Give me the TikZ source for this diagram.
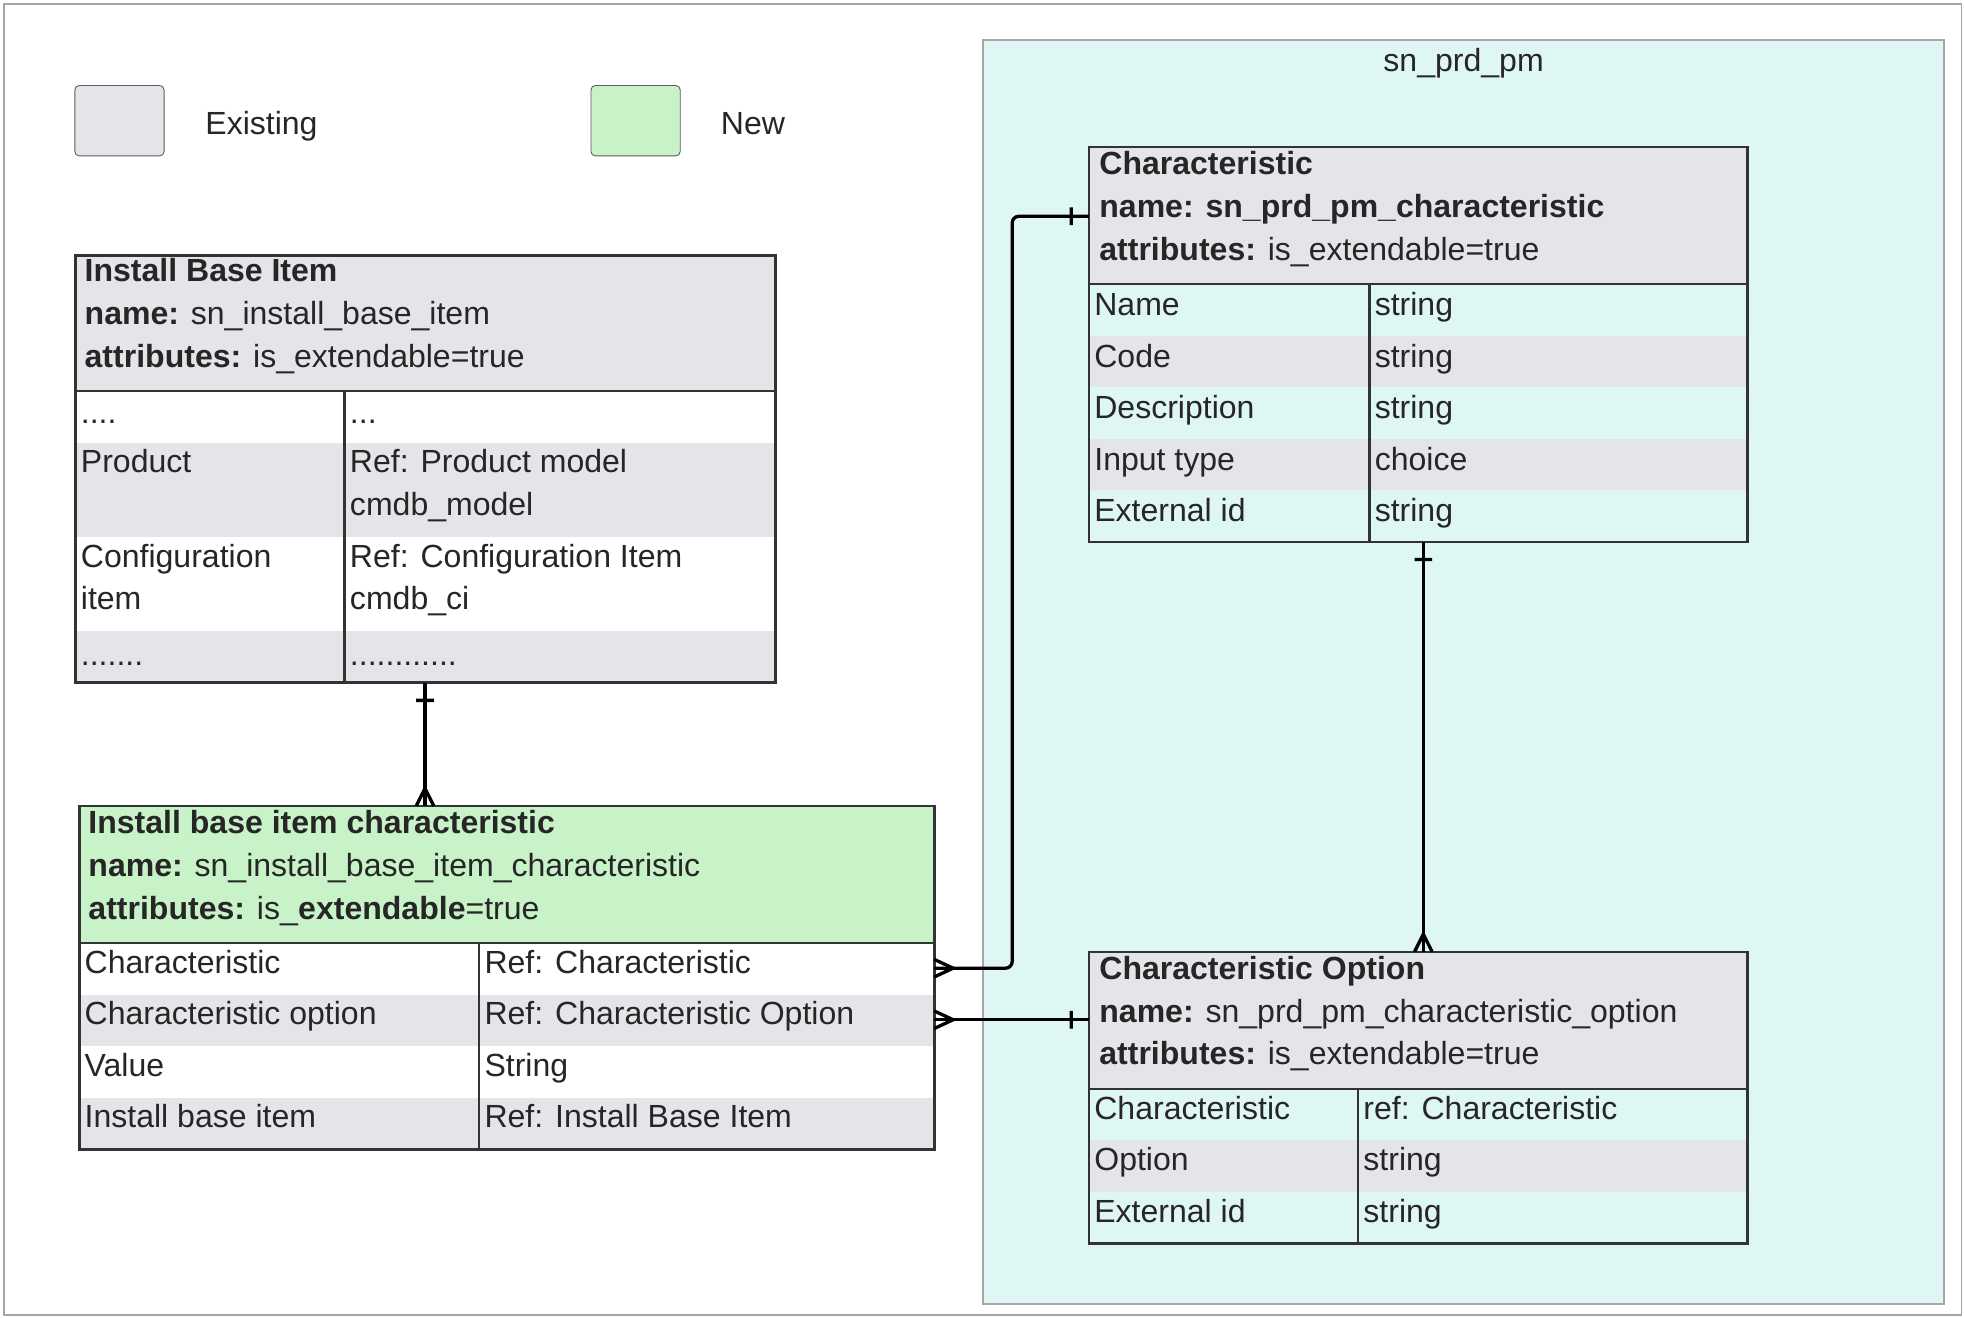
\documentclass[tikz,border=0pt]{standalone}
\usepackage{fontspec}
\setmainfont{Liberation Sans}
\usetikzlibrary{fit}
\definecolor{exg}{HTML}{E3E5E8}
\definecolor{newg}{HTML}{C8F2C8}
\definecolor{cy}{HTML}{DFF7F4}
\definecolor{bd}{HTML}{333333}
\begin{document}
\begin{tikzpicture}[x=0.02cm,y=-0.02cm,
  tx/.style={anchor=base west,inner sep=0,font=\fontsize{14.5}{17}\selectfont,text=black!85},
  hb/.style={tx,font=\fontsize{14.5}{17}\selectfont\bfseries},
  box/.style={draw=bd,line width=1.2pt,inner sep=0,fit=#1},
  con/.style={line width=1.5pt,black}]
\useasboundingbox (0,0) rectangle (1562,1048);
\draw[gray!70,line width=0.8pt] (3,3) rectangle (1560,1046);
% container
\fill[cy] (782,32) rectangle (1546,1037);
\coordinate (c1) at (782,32); \coordinate (c2) at (1546,1037);
\node[draw=gray!70,line width=0.8pt,inner sep=0,fit=(c1)(c2)] (cont) {};
\node[tx,anchor=base] (ctitle) at (1164,57) {sn\_prd\_pm};
% legend
\node[draw=bd!80,fill=exg,rounded corners=2pt,minimum width=1.42cm,minimum height=1.12cm] (lex) at (95,96) {};
\node[tx] (lext) at (163,107) {Existing};
\node[draw=bd!80,fill=newg,rounded corners=2pt,minimum width=1.42cm,minimum height=1.12cm] (lnw) at (505.5,96) {};
\node[tx] (lnwt) at (573,107) {New};
% ===== Table 1
\fill[exg] (60,203) rectangle (617,311);
\fill[white] (60,311) rectangle (617,543);
\fill[exg] (60,352) rectangle (617,427);
\fill[exg] (60,502) rectangle (617,543);
\draw[bd,line width=1.2pt] (60,311) -- (617,311) (274,311) -- (274,543);
\coordinate (a1) at (60,203); \coordinate (a2) at (617,543);
\node[box=(a1)(a2)] (t1) {};
\node[hb] (t1h1) at (67,224) {Install Base Item};
\node[tx] (t1h2) at (67,258) {\textbf{name:} sn\_install\_base\_item};
\node[tx] (t1h3) at (67,292) {\textbf{attributes:} is\_extendable=true};
\node[tx] (t1a) at (64,337) {....};
\node[tx] (t1b) at (278,337) {...};
\node[tx] (t1c) at (64,376) {Product};
\node[tx] (t1d) at (278,376) {Ref: Product model};
\node[tx] (t1e) at (278,410) {cmdb\_model};
\node[tx] (t1f) at (64,451) {Configuration};
\node[tx] (t1g) at (64,485) {item};
\node[tx] (t1h) at (278,451) {Ref: Configuration Item};
\node[tx] (t1i) at (278,485) {cmdb\_ci};
\node[tx] (t1j) at (64,529) {.......};
\node[tx] (t1k) at (278,529) {............};
% ===== Table 2
\fill[newg] (63,641) rectangle (743,750);
\fill[white] (63,750) rectangle (743,914);
\fill[exg] (63,791) rectangle (743,832);
\fill[exg] (63,873) rectangle (743,914);
\draw[bd,line width=1.2pt] (63,750) -- (743,750) (381,750) -- (381,914);
\coordinate (b1) at (63,641); \coordinate (b2) at (743,914);
\node[box=(b1)(b2)] (t2) {};
\node[hb] (t2h1) at (70,663) {Install base item characteristic};
\node[tx] (t2h2) at (70,697) {\textbf{name:} sn\_install\_base\_item\_characteristic};
\node[tx] (t2h3) at (70,731) {\textbf{attributes:} is\_\textbf{extendable}=true};
\node[tx] (t2a) at (67,774) {Characteristic};
\node[tx] (t2b) at (385,774) {Ref: Characteristic};
\node[tx] (t2c) at (67,815) {Characteristic option};
\node[tx] (t2d) at (385,815) {Ref: Characteristic Option};
\node[tx] (t2e) at (67,856) {Value};
\node[tx] (t2f) at (385,856) {String};
\node[tx] (t2g) at (67,897) {Install base item};
\node[tx] (t2i) at (385,897) {Ref: Install Base Item};
% ===== Table 3
\fill[exg] (866,117) rectangle (1390,226);
\fill[exg] (866,267) rectangle (1390,308);
\fill[exg] (866,349) rectangle (1390,390);
\draw[bd,line width=1.2pt] (866,226) -- (1390,226) (1089,226) -- (1089,431);
\coordinate (d1) at (866,117); \coordinate (d2) at (1390,431);
\node[box=(d1)(d2)] (t3) {};
\node[hb] (t3h1) at (874,139) {Characteristic};
\node[hb] (t3h2) at (874,173) {name: sn\_prd\_pm\_characteristic};
\node[tx] (t3h3) at (874,207) {\textbf{attributes:} is\_extendable=true};
\node[tx] (t3a) at (870,251) {Name};
\node[tx] (t3b) at (1093,251) {string};
\node[tx] (t3c) at (870,292) {Code};
\node[tx] (t3d) at (1093,292) {string};
\node[tx] (t3e) at (870,333) {Description};
\node[tx] (t3f) at (1093,333) {string};
\node[tx] (t3g) at (870,374) {Input type};
\node[tx] (t3i) at (1093,374) {choice};
\node[tx] (t3j) at (870,415) {External id};
\node[tx] (t3k) at (1093,415) {string};
% ===== Table 4
\fill[exg] (866,757) rectangle (1390,866);
\fill[exg] (866,907) rectangle (1390,948);
\draw[bd,line width=1.2pt] (866,866) -- (1390,866) (1080,866) -- (1080,989);
\coordinate (e1) at (866,757); \coordinate (e2) at (1390,989);
\node[box=(e1)(e2)] (t4) {};
\node[hb] (t4h1) at (874,779) {Characteristic Option};
\node[tx] (t4h2) at (874,813) {\textbf{name:} sn\_prd\_pm\_characteristic\_option};
\node[tx] (t4h3) at (874,847) {\textbf{attributes:} is\_extendable=true};
\node[tx] (t4a) at (870,890) {Characteristic};
\node[tx] (t4b) at (1084,890) {ref: Characteristic};
\node[tx] (t4c) at (870,931) {Option};
\node[tx] (t4d) at (1084,931) {string};
\node[tx] (t4e) at (870,972) {External id};
\node[tx] (t4f) at (1084,972) {string};
% ===== connectors
\coordinate (p1) at (338,543); \coordinate (p2) at (338,641);
\draw[con] (p1) -- (p2);
\draw[con] (331,557) -- (345,557) (331,641) -- (338,627) -- (345,641);
\coordinate (q1) at (743,770); \coordinate (q2) at (805,770);
\coordinate (q3) at (805,172); \coordinate (q4) at (866,172);
\draw[con,rounded corners=3pt] (q1) -- (q2) -- (q3) -- (q4);
\draw[con] (743,763) -- (758,770) -- (743,777) (852,165) -- (852,179);
\coordinate (r1) at (743,811); \coordinate (r2) at (866,811);
\draw[con] (r1) -- (r2);
\draw[con] (743,804) -- (758,811) -- (743,818) (852,804) -- (852,818);
\coordinate (s1) at (1132,431); \coordinate (s2) at (1132,757);
\draw[con] (s1) -- (s2);
\draw[con] (1125,445) -- (1139,445) (1125,757) -- (1132,743) -- (1139,757);
\end{tikzpicture}
\end{document}
